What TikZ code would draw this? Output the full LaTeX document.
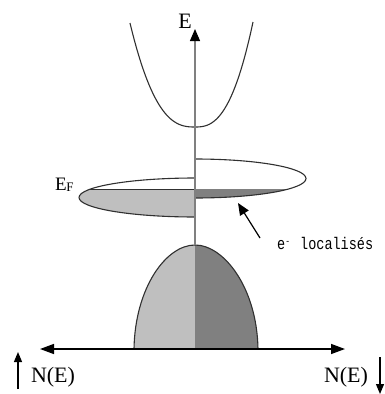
\documentclass[tikz,border=0pt]{standalone}
\usepackage{fontspec}
\setmainfont{Liberation Serif}
\newfontfamily\monof{Liberation Mono}
\usetikzlibrary{arrows.meta}
\definecolor{lgray}{HTML}{BFBFBF}
\definecolor{dgray}{HTML}{808080}
\definecolor{outl}{HTML}{303030}
\tikzset{
  outline/.style={draw=outl, line width=1.1pt},
  tip/.style={-{Triangle[length=12pt,width=10pt,color=black]}},
  lbl/.style={inner sep=0pt, font=\fontsize{22}{22}\selectfont},
}
\begin{document}
\begin{tikzpicture}[x=1pt,y=-1pt]
\useasboundingbox (0,0) rectangle (385,394);
% valence band dome
\fill[lgray] (134,349) .. controls (135,288) and (166,245) .. (195,245) -- (195,349) -- cycle;
\fill[dgray] (195,245) .. controls (224,245) and (257,288) .. (258,349) -- (195,349) -- cycle;
\draw[outline] (134,349) .. controls (135,288) and (166,245) .. (195,245)
  .. controls (224,245) and (257,288) .. (258,349);
% left half ellipse (filled below E_F)
\begin{scope}
  \clip (0,189) rectangle (195,260);
  \fill[lgray] (195,197.5) ellipse [x radius=116pt, y radius=19.5pt];
\end{scope}
\begin{scope}
  \clip (0,150) rectangle (195,260);
  \draw[outline] (195,197.5) ellipse [x radius=116pt, y radius=19.5pt];
\end{scope}
% right half ellipse (dark strip below E_F)
\begin{scope}
  \clip (195,189) rectangle (385,260);
  \fill[dgray] (195,178.5) ellipse [x radius=111pt, y radius=19.5pt];
\end{scope}
\begin{scope}
  \clip (195,140) rectangle (385,260);
  \draw[outline] (195,178.5) ellipse [x radius=111pt, y radius=19.5pt];
\end{scope}
% Fermi level line on the left
\coordinate (efl) at (89,189);
\coordinate (efr) at (195,189);
\draw[draw=outl, line width=0.9pt] (efl) -- (efr);
% conduction band
\draw[outline] plot[domain=65:0, samples=50] ({195-\x},{127-104*(\x/65)^2.6})
  -- plot[domain=0:58, samples=50] ({195+\x},{127-105*(\x/58)^2.6});
% axes
\coordinate (vb) at (195,245);
\coordinate (vt) at (195,29);
\draw[draw=dgray, line width=1.1pt, tip] (vb) -- (vt);
\coordinate (hl) at (40,349);
\coordinate (hr) at (345,349);
\draw[line width=1.4pt, {Triangle[length=14pt,width=10pt]}-{Triangle[length=14pt,width=10pt]}] (hl) -- (hr);
% labels
\node[lbl] (E) at (185,21) {E};
\node[inner sep=0pt, font=\fontsize{19}{19}\selectfont, anchor=base west] (EF) at (55,190) {E\kern-0.5pt\raisebox{-0.2ex}{\fontsize{13}{13}\selectfont F}};
\node[inner sep=0pt, font=\monof\fontsize{13.5}{13.5}\selectfont, anchor=base west] (loc) at (277,249) {\scalebox{1}[1.25]{e\raisebox{0.55ex}{\fontsize{8}{8}\selectfont -}\hspace{0.75em}localisés}};
\coordinate (la) at (260,238);
\coordinate (lt) at (238,203);
\draw[line width=1.2pt, -{Triangle[length=12pt,width=10pt]}] (la) -- (lt);
\node[lbl] (NL) at (53,377) {N(E)};
\node[lbl] (NR) at (346,377) {N(E)};
\coordinate (al1) at (18,389);
\coordinate (al2) at (18,352);
\draw[line width=1.2pt, -{Triangle[length=10pt,width=8pt]}] (al1) -- (al2);
\coordinate (ar1) at (380,357);
\coordinate (ar2) at (380,394);
\draw[line width=1.2pt, -{Triangle[length=10pt,width=8pt]}] (ar1) -- (ar2);
\end{tikzpicture}
\end{document}
